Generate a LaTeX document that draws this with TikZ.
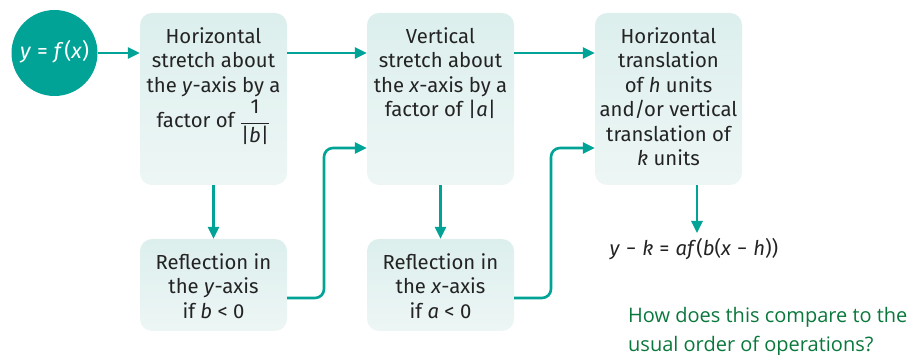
\documentclass[tikz,border=0pt]{standalone}
\usepackage{fontspec}
\setmainfont{Fira Sans}
\newfontfamily\qfont{Open Sans}
\usetikzlibrary{arrows.meta}
\definecolor{teal1}{RGB}{0,163,150}
\definecolor{boxtop}{RGB}{220,239,237}
\definecolor{boxbot}{RGB}{237,246,245}
\definecolor{qgreen}{RGB}{10,120,60}
\definecolor{txt}{RGB}{35,35,35}
\newcommand{\mygap}{\kern6pt}
\tikzset{
  box/.style={rectangle, rounded corners=12pt, top color=boxtop, bottom color=boxbot, draw=none, inner sep=0pt},
  tall/.style={box, minimum width=147pt, minimum height=172pt},
  short/.style={box, minimum width=147pt, minimum height=92pt},
  btxt/.style={text=txt, align=center, font=\fontsize{20.3}{24.5}\selectfont, inner sep=0pt},
  conn/.style={draw=teal1, line width=2.6pt, -{Triangle[length=12pt,width=11pt]}, rounded corners=9pt},
}
\begin{document}
\begin{tikzpicture}[x=1pt,y=-1pt]
\useasboundingbox (0,0) rectangle (910,355);
\node[circle, fill=teal1, minimum size=86pt, inner sep=0pt] (c) at (54.5,53) {};
\node[text=white, font=\fontsize{21.5}{24}\selectfont] (ct) at (54.5,52) {\textit{y}\mygap=\mygap\textit{f\,}(\textit{x})};
\node[tall] (b1) at (213.5,99) {};
\node[short] (b2) at (213.5,285) {};
\node[tall] (b3) at (440.5,99) {};
\node[short] (b4) at (440.5,285) {};
\node[tall] (b5) at (668.5,99) {};
\node[btxt, anchor=north] (t1) at (213.5,27) {Horizontal\\stretch about\\the \textit{y}-axis by a\\[3pt]factor of $\displaystyle\frac{\mbox{1}}{\mbox{|\textit{b}|}}$};
\node[btxt] (t2) at (213.5,286) {Reflection in\\the \textit{y}-axis\\if \textit{b} < 0};
\node[btxt, anchor=north] (t3) at (440.5,27) {Vertical\\stretch about\\the \textit{x}-axis by a\\factor of |\textit{a}|};
\node[btxt] (t4) at (440.5,286) {Reflection in\\the \textit{x}-axis\\if \textit{a} < 0};
\node[btxt, anchor=north] (t5) at (668.5,27) {Horizontal\\translation\\of \textit{h} units\\and/or vertical\\translation of\\\textit{k} units};
\node[btxt] (eq) at (694,249) {\textit{y}\mygap−\mygap\textit{k}\mygap=\mygap\textit{af}(\textit{b}(\textit{x}\mygap−\mygap\textit{h}))};
\node[text=qgreen, font=\qfont\fontsize{20}{29.5}\selectfont, align=left, anchor=north west, inner sep=0pt] (q) at (628,307) {How does this compare to the\\usual order of operations?};
\coordinate (e1) at (324,298);
\coordinate (e2) at (551,298);
\draw[conn] (c.east) -- (b1.west |- c.east);
\draw[conn] (b1.east |- 0,53) -- (b3.west |- 0,53);
\draw[conn] (b3.east |- 0,53) -- (b5.west |- 0,53);
\draw[conn] (b1.south) -- (b2.north);
\draw[conn] (b3.south) -- (b4.north);
\draw[conn] (b5.south -| 697,0) -- (697,233);
\draw[conn] (b2.east |- e1) -- (e1) -- (324,148) -- (b3.west |- 0,148);
\draw[conn] (b4.east |- e2) -- (e2) -- (551,148) -- (b5.west |- 0,148);
\end{tikzpicture}
\end{document}
